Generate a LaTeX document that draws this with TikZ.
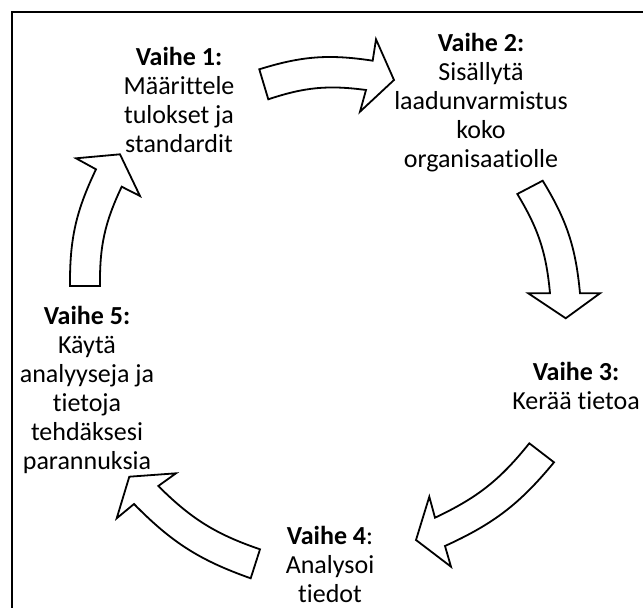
\documentclass[tikz,border=0pt]{standalone}
\usepackage{fontspec}
\setmainfont{Carlito}[Ligatures=CommonOff]

% curved block arrow: outer tail, outer notch, outer barb, tip,
% inner barb, inner notch, inner tail, bend angle
\newcommand{\blockarc}[8]{%
  \draw[stagearrow] #1 to[bend left=#8] #2 -- #3 -- #4 -- #5 -- #6
    to[bend right=#8] #7 -- cycle;}

\tikzset{
  stagearrow/.style={draw=black, fill=white, line width=1.8pt, line join=miter},
  stagetext/.style={align=center, inner sep=0pt,
    font=\fontsize{26}{28.9}\selectfont},
  frameline/.style={draw=black, line width=2.2pt},
}

\begin{document}
\begin{tikzpicture}[x=1pt, y=-1pt]
  \useasboundingbox (0,0) rectangle (643,608);
  \clip (0,0) rectangle (643,608);
  \fill[white] (0,0) rectangle (643,608);

  % outer frame
  \draw[frameline] (12,12) rectangle (660,625);

  % stage labels
  \node[stagetext] (v1) at (179,100)
    {\textbf{Vaihe 1:}\\Määrittele\\tulokset ja\\standardit};
  \node[stagetext] (v2) at (481,102.5)
    {\textbf{Vaihe 2:}\\Sisällytä\\laadunvarmistus\\koko\\organisaatiolle};
  \node[stagetext] (v3) at (576,386)
    {\textbf{Vaihe 3:}\\Kerää tietoa};
  \node[stagetext] (v4) at (330,564.5)
    {\textbf{Vaihe 4}:\\Analysoi\\tiedot};
  \node[stagetext] (v5) at (87,390)
    {\textbf{Vaihe 5:}\\Käytä\\analyyseja ja\\tietoja\\tehdäksesi\\parannuksia};

  % cycle arrows, clockwise
  \blockarc{(259.3,69.3)}{(372.7,60.7)}{(376,39.3)}{(394,80)}
           {(360,111.7)}{(366,90)}{(268.3,99.3)}{13}
  \blockarc{(542.7,180.7)}{(580,293.3)}{(600,293.3)}{(565.7,318.3)}
           {(528.3,293.3)}{(550,293.3)}{(517.3,194)}{13}
  \blockarc{(554,462.3)}{(445,546)}{(451,566.7)}{(416,540)}
           {(429.3,496.7)}{(435,517.7)}{(529.3,443.3)}{13}
  \blockarc{(250.7,578.3)}{(134,504)}{(116.7,518.3)}{(129.3,476.7)}
           {(176,473.3)}{(158.3,486)}{(260,549.3)}{13}
  \blockarc{(70,286)}{(96,169.3)}{(76,158.3)}{(120,154.3)}
           {(140,196)}{(121.7,186.7)}{(100,286)}{13}
\end{tikzpicture}
\end{document}
